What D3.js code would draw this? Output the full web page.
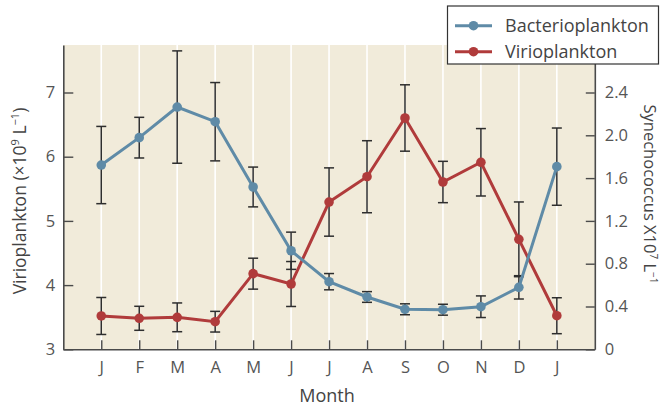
<!DOCTYPE html>
<html><head><meta charset="utf-8">
<script src="https://cdn.jsdelivr.net/npm/d3@7"></script>
<style>
body{margin:0;background:#fff;}
svg text{font-family:"Open Sans",sans-serif;}
</style></head>
<body><svg id="c" width="665" height="408"></svg>
<script>
const months = ["J","F","M","A","M","J","J","A","S","O","N","D","J"];
// Bacterioplankton (plotted on right axis units)
const bacterio = [1.722,1.978,2.264,2.127,1.517,0.921,0.632,0.489,0.374,0.370,0.398,0.579,1.707];
const bacterioErr = [0.361,0.190,0.525,0.366,0.186,0.174,0.076,0.050,0.051,0.051,0.101,0.109,0.361];
// Virioplankton (left axis units, x10^9 L^-1)
const virio = [3.519,3.483,3.498,3.430,4.178,4.017,5.294,5.688,6.603,5.606,5.913,4.713,3.523];
const virioErr = [0.288,0.187,0.224,0.161,0.241,0.350,0.532,0.561,0.517,0.322,0.525,0.582,0.280];
const leftTicks = [3,4,5,6,7];
const rightTicks = [0,0.4,0.8,1.2,1.6,2.0,2.4];

const svg = d3.select("#c");
const L = 63.3, R = 594.8, T = 45, B = 349.3;
const x = d3.scaleLinear().domain([-1, 13]).range([L, R]);
const yL = d3.scaleLinear().domain([3, 3 + (B - T) / 64.2]).range([B, T]);
const yR = d3.scaleLinear().domain([0, (B - T) / 107]).range([B, T]);
const blue = "#5f8ba7", red = "#b03b3b", ink = "#4a4a4a";

svg.append("rect").attr("x", L).attr("y", T).attr("width", R - L).attr("height", B - T).attr("fill", "#f1ebda");
// white grid lines
svg.append("g").selectAll("line").data(months).join("line")
  .attr("x1", (d, i) => x(i)).attr("x2", (d, i) => x(i))
  .attr("y1", T).attr("y2", B).attr("stroke", "#fff").attr("stroke-width", 1.6);

function styleAxis(g){
  g.selectAll("path.domain").attr("stroke", ink).attr("stroke-width", 1.6);
  g.selectAll(".tick line").attr("stroke", ink).attr("stroke-width", 1.4);
  g.selectAll(".tick text").attr("fill", "#555").attr("font-size", 16.5).attr("font-family", "Open Sans");
}
svg.append("g").attr("transform", `translate(${L},0)`)
  .call(d3.axisLeft(yL).tickValues(leftTicks).tickSizeInner(-10).tickSizeOuter(0).tickPadding(8).tickFormat(d3.format("d")))
  .call(styleAxis);
svg.append("g").attr("transform", `translate(${R},0)`)
  .call(d3.axisRight(yR).tickValues(rightTicks).tickSizeInner(-9).tickSizeOuter(0).tickPadding(10).tickFormat(d => d === 0 ? "0" : d3.format(".1f")(d)))
  .call(styleAxis);
svg.append("g").attr("transform", `translate(0,${B})`)
  .call(d3.axisBottom(x).tickValues(d3.range(months.length)).tickSizeInner(-9).tickSizeOuter(0).tickPadding(12).tickFormat(i => months[i]))
  .call(styleAxis);

// error bars
function errBars(vals, errs, ys){
  const g = svg.append("g").attr("stroke", "#2e2e2e").attr("stroke-width", 1.5).attr("fill", "none");
  vals.forEach((v, i) => {
    const cx = x(i), y1 = ys(v + errs[i]), y2 = ys(v - errs[i]);
    g.append("line").attr("x1", cx).attr("x2", cx).attr("y1", y1).attr("y2", y2);
    g.append("line").attr("x1", cx - 5).attr("x2", cx + 5).attr("y1", y1).attr("y2", y1);
    g.append("line").attr("x1", cx - 5).attr("x2", cx + 5).attr("y1", y2).attr("y2", y2);
  });
}
errBars(virio, virioErr, yL);
errBars(bacterio, bacterioErr, yR);

function series(vals, ys, color){
  const line = d3.line().x((d, i) => x(i)).y(d => ys(d));
  svg.append("path").datum(vals).attr("d", line).attr("fill", "none").attr("stroke", color).attr("stroke-width", 3);
  svg.append("g").selectAll("circle").data(vals).join("circle")
    .attr("cx", (d, i) => x(i)).attr("cy", d => ys(d)).attr("r", 4.8).attr("fill", color);
}
series(virio, yL, red);
series(bacterio, yR, blue);

// axis titles
svg.append("text").attr("x", 327).attr("y", 402).attr("text-anchor", "middle")
  .attr("font-size", 18).attr("fill", "#444").text("Month");
const lt = svg.append("text").attr("transform", "translate(26,201) rotate(-90)").attr("text-anchor", "middle")
  .attr("font-size", 17.5).attr("fill", "#444");
lt.append("tspan").text("Virioplankton (×10");
lt.append("tspan").attr("font-size", 11).attr("dy", -7).text("9");
lt.append("tspan").attr("dy", 7).text(" L");
lt.append("tspan").attr("font-size", 11).attr("dy", -7).text("−1");
lt.append("tspan").attr("dy", 7).text(")");
const rt = svg.append("text").attr("transform", "translate(644,194) rotate(90)").attr("text-anchor", "middle")
  .attr("font-size", 16.5).attr("fill", "#444");
rt.append("tspan").text("Synechococcus X10");
rt.append("tspan").attr("font-size", 10).attr("dy", -6).text("7");
rt.append("tspan").attr("dy", 6).text(" L");
rt.append("tspan").attr("font-size", 10).attr("dy", -6).text("−1");

// legend
const lg = svg.append("g");
lg.append("rect").attr("x", 447.5).attr("y", 6).attr("width", 211).attr("height", 58)
  .attr("fill", "#fff").attr("stroke", "#333").attr("stroke-width", 1.2);
[["Bacterioplankton", blue, 25.7], ["Virioplankton", red, 51.7]].forEach(([name, c, yy]) => {
  lg.append("line").attr("x1", 455).attr("x2", 492).attr("y1", yy).attr("y2", yy).attr("stroke", c).attr("stroke-width", 3);
  lg.append("circle").attr("cx", 473.5).attr("cy", yy).attr("r", 4.8).attr("fill", c);
  lg.append("text").attr("x", 505).attr("y", yy + 6).attr("font-size", 18).attr("fill", "#444").text(name);
});
</script></body></html>
